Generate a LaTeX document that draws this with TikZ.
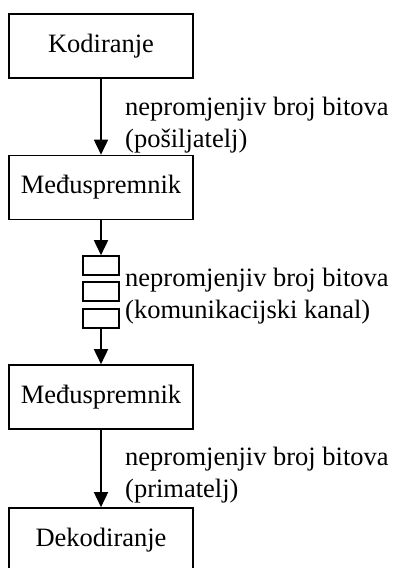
\documentclass[tikz,border=0pt]{standalone}
\usepackage{fontspec}
\setmainfont{Liberation Serif}
\usetikzlibrary{arrows.meta}
\begin{document}
\begin{tikzpicture}[x=1pt,y=-1pt,
  font=\fontsize{26.5}{32}\selectfont,
  bigbox/.style={draw,line width=1.6pt,minimum width=184pt,minimum height=64pt,inner sep=0pt},
  cell/.style={draw,line width=1.6pt,minimum width=36pt,minimum height=19pt,inner sep=0pt},
  lbl/.style={anchor=base west,inner sep=0pt},
  flow/.style={line width=1.6pt,-{Triangle[length=15pt,width=14pt]}}]
\useasboundingbox (0,0) rectangle (396,568);
\node[bigbox] (kod) at (101,46) {Kodiranje};
\node[bigbox] (m1) at (101,187.5) {Međuspremnik};
\node[cell] (c1) at (101,265.5) {};
\node[cell] (c2) at (101,291.5) {};
\node[cell] (c3) at (101,318.5) {};
\node[bigbox] (m2) at (101,397) {Međuspremnik};
\node[bigbox] (dek) at (101,540) {Dekodiranje};
\draw[flow] (kod.south) -- (m1.north);
\draw[flow] (m1.south) -- (c1.north);
\draw[flow] (c3.south) -- (m2.north);
\draw[flow] (m2.south) -- (dek.north);
\node[lbl] (l1a) at (125,115) {nepromjenjiv broj bitova};
\node[lbl] (l1b) at (125,147) {(pošiljatelj)};
\node[lbl] (l2a) at (125,286) {nepromjenjiv broj bitova};
\node[lbl] (l2b) at (125,318) {(komunikacijski kanal)};
\node[lbl] (l3a) at (125,465) {nepromjenjiv broj bitova};
\node[lbl] (l3b) at (125,497) {(primatelj)};
\end{tikzpicture}
\end{document}
